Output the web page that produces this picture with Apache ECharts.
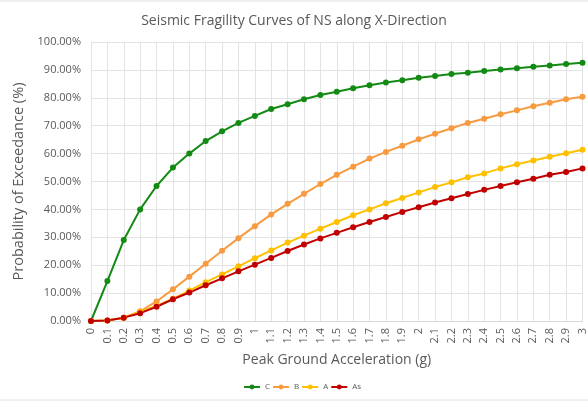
<!DOCTYPE html>
<html>
<head>
<meta charset="utf-8">
<script src="https://cdn.jsdelivr.net/npm/echarts@6/dist/echarts.min.js"></script>
<style>
  html, body { margin: 0; padding: 0; background: #fff; }
  #chart { width: 588px; height: 402px; }
</style>
</head>
<body>
<div id="chart"></div>
<script>
// Peak ground acceleration levels (g)
const pga = ['0','0.1','0.2','0.3','0.4','0.5','0.6','0.7','0.8','0.9','1','1.1','1.2','1.3','1.4','1.5',
             '1.6','1.7','1.8','1.9','2','2.1','2.2','2.3','2.4','2.5','2.6','2.7','2.8','2.9','3'];

// Probability of exceedance (%) per damage state
const seriesC  = [0, 14.3, 29.0, 40.0, 48.4, 55.0, 60.0, 64.5, 68.0, 71.0, 73.5, 76.0, 77.7, 79.5, 81.0, 82.2,
                  83.4, 84.5, 85.5, 86.3, 87.2, 87.8, 88.5, 89.0, 89.6, 90.1, 90.6, 91.1, 91.6, 92.1, 92.6];
const seriesB  = [0, 0.2, 1.2, 3.5, 7.0, 11.4, 15.9, 20.5, 25.2, 29.7, 34.0, 38.2, 42.0, 45.6, 49.1, 52.4,
                  55.3, 58.2, 60.6, 62.8, 65.1, 67.1, 69.1, 71.0, 72.5, 74.1, 75.5, 77.0, 78.2, 79.5, 80.4];
const seriesA  = [0, 0.2, 1.2, 3.3, 5.4, 8.0, 10.9, 13.9, 16.7, 19.6, 22.5, 25.3, 28.1, 30.6, 33.1, 35.5,
                  37.9, 40.0, 42.2, 44.1, 46.1, 48.0, 49.7, 51.5, 52.9, 54.7, 56.2, 57.5, 58.9, 60.1, 61.4];
const seriesAs = [0, 0.2, 1.2, 2.8, 5.1, 7.8, 10.2, 12.8, 15.3, 17.8, 20.2, 22.6, 25.1, 27.4, 29.6, 31.6,
                  33.6, 35.5, 37.3, 39.1, 40.8, 42.5, 44.0, 45.5, 47.0, 48.4, 49.7, 51.0, 52.4, 53.4, 54.7];

const yTicks = [0, 10, 20, 30, 40, 50, 60, 70, 80, 90, 100];

const textColor = '#595959';
const font = '"Open Sans", "Noto Sans", sans-serif';

function line(name, data, color) {
  return {
    name, type: 'line', data,
    symbol: 'circle', symbolSize: 6,
    lineStyle: { color, width: 2 },
    itemStyle: { color },
    emphasis: { disabled: true }
  };
}

const chart = echarts.init(document.getElementById('chart'));
chart.setOption({
  backgroundColor: '#fff',
  animation: false,
  textStyle: { fontFamily: font },
  title: {
    text: 'Seismic Fragility Curves of NS along X-Direction',
    left: 'center', top: 9,
    textStyle: { fontSize: 14, fontWeight: 'normal', color: textColor, fontFamily: font }
  },
  grid: { left: 91, right: 3, top: 42, bottom: 81 },
  xAxis: {
    type: 'category', data: pga, boundaryGap: false,
    name: 'Peak Ground Acceleration (g)', nameLocation: 'middle', nameGap: 32,
    nameTextStyle: { fontSize: 14, color: textColor, fontFamily: font },
    axisLine: { lineStyle: { color: '#d9d9d9' } },
    axisTick: { show: false },
    axisLabel: { rotate: 90, interval: 0, fontSize: 11, color: textColor, margin: 7 },
    splitLine: { show: true, interval: 0, lineStyle: { color: '#e3e3e3', width: 1 } }
  },
  yAxis: {
    type: 'value', min: 0, max: 100, interval: 10,
    name: 'Probability of Exceedance (%)', nameLocation: 'middle', nameGap: 51,
    nameTextStyle: { fontSize: 14.5, color: textColor, fontFamily: font },
    axisLine: { show: false }, axisTick: { show: false },
    axisLabel: {
      fontSize: 11, color: textColor, margin: 10,
      formatter: v => yTicks.includes(v) ? v.toFixed(2) + '%' : ''
    },
    splitLine: { lineStyle: { color: '#e3e3e3', width: 1 } }
  },
  legend: {
    top: 383, left: 243, padding: 0,
    itemWidth: 16, itemHeight: 6, itemGap: 2,
    textStyle: { fontSize: 8, color: textColor, fontFamily: font },
    data: ['C', 'B', 'A', 'As']
  },
  series: [
    line('C', seriesC, '#138a13'),
    line('B', seriesB, '#f79a40'),
    line('A', seriesA, '#ffc000'),
    line('As', seriesAs, '#c00000')
  ],
  graphic: [
    { type: 'line', shape: { x1: 0, y1: 1, x2: 588, y2: 1 }, style: { stroke: '#e0e0e0', lineWidth: 1 } },
    { type: 'line', shape: { x1: 0, y1: 400, x2: 588, y2: 400 }, style: { stroke: '#e0e0e0', lineWidth: 1 } }
  ]
});
</script>
</body>
</html>
